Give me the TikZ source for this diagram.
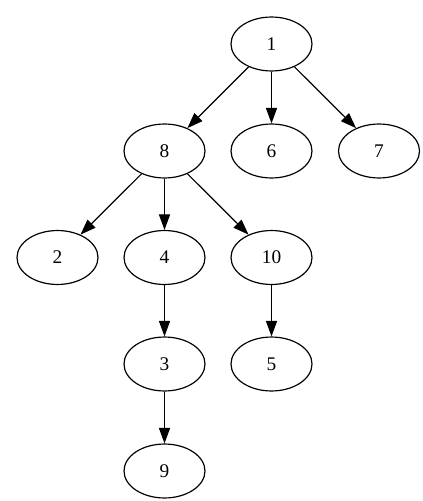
\documentclass[tikz,border=0pt]{standalone}
\usepackage{fontspec}
\setmainfont{Liberation Serif}
\usetikzlibrary{arrows.meta,shapes.geometric}
\begin{document}
\begin{tikzpicture}[x=0.6729pt,y=-0.6729pt,
  nd/.style={draw, ellipse, line width=0.8pt, minimum width=54.5pt, minimum height=36.3pt, inner sep=0pt, font=\fontsize{13}{15}\selectfont},
  edge/.style={line width=0.8pt, -{Triangle[length=10.5pt,width=7.5pt]}}]
\useasboundingbox (0,0) rectangle (423,501);
\node[nd] (n1) at (271.5,44) {1};
\node[nd] (n8) at (164.5,151) {8};
\node[nd] (n6) at (271.5,151) {6};
\node[nd] (n7) at (379,151) {7};
\node[nd] (n2) at (57.5,257.5) {2};
\node[nd] (n4) at (164.5,257.5) {4};
\node[nd] (n10) at (271.5,257.5) {10};
\node[nd] (n3) at (164.5,364) {3};
\node[nd] (n5) at (271.5,364) {5};
\node[nd] (n9) at (164.5,471) {9};
\draw[edge] (n1) -- (n8);
\draw[edge] (n1) -- (n6);
\draw[edge] (n1) -- (n7);
\draw[edge] (n8) -- (n2);
\draw[edge] (n8) -- (n4);
\draw[edge] (n8) -- (n10);
\draw[edge] (n4) -- (n3);
\draw[edge] (n10) -- (n5);
\draw[edge] (n3) -- (n9);
\end{tikzpicture}
\end{document}
